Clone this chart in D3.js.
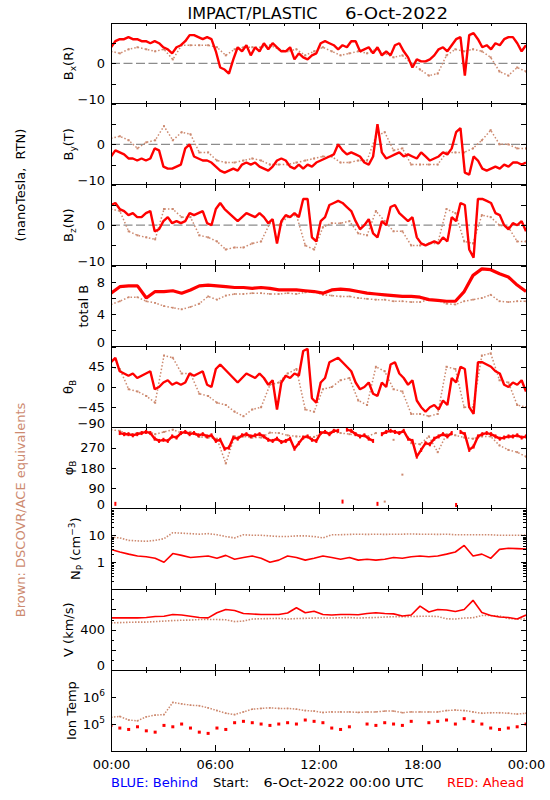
<!DOCTYPE html>
<html><head><meta charset="utf-8">
<script src="https://cdn.jsdelivr.net/npm/d3@7"></script>
<style>body{margin:0;background:#fff}svg{display:block}text{font-family:"DejaVu Sans",sans-serif}</style>
</head><body><svg id="c" width="550" height="800"></svg>
<script>
// ---------------- DATA ----------------
const timeTickLabels = ["00:00","06:00","12:00","18:00","00:00"];
const timeTickHours = [0,6,12,18,24];
const timeMinorHours = [2,4,8,10,14,16,20,22];

const bxRed = [4,5.5,6,6, 6.5,6,6,5.5, 5.5,5,5.5,5, 4,3.5,2.5,4, 4.5,5.5,7,7, 6.5,6,6.5,6, 3,-1,-1.5,-2.5, 1,4,3,4.5, 2,4,3,5, 3.5,5,4,3, 3,4,1,2.5, 1.5,1,2,2.5, 5,5.5,5,4.5, 3.5,4.5,4,5.5, 5.5,3,3.5,4, 2.5,4,2,3, 2,4.5,5,3, 1.5,-1,1,0.5, 0.5,1,2,3.5, 4,3,4.5,6, 6.5,-3,7,7.5, 6,4,4.5,3.5, 5,4.5,6,6.5, 6.5,5,3,4.5];
const bxBrown = [3,2.5,3.5,4,3.5,3,3.5,1, 4.5,4.5,4.5,4.5, 4,2, 3.5,4, 4,4,4.5,3.5, 3,3.5,2,3, 4,3,2,2.5, 3,2.5,3.5,2.5, 1.5,2,0,-1.5, -3,-2.5,2,3.5, 3,3.5,3,1.5, -2,-3,-1,-2];

const byRed = [-3,-1.5,-2,-2.5, -3.5,-3.5,-4,-3.5, -4,-3.5,-1,-1.5, -5.5,-6,-6,-5.5, -5,-1,0,-3, -3.5,-4,-4,-4.5, -5.5,-6.5,-7,-6.5, -6,-6.5,-5,-4.5, -5,-4.5,-5.5,-6, -6.5,-5.5,-4,-3.5, -4,-5.5,-6,-5, -6,-5,-5.5,-4.5, -4,-3.5,-3,-2.5, 0,-1.5,-2.5,-2, -2.5,-3,-4.5,-5, -3,5,-2,-3.5, -3,-2.5,-2,-3, -2.5,-3,-3.5,-2, -3,-4,-3.5,-3, -2,-2.5,-1,3, 4,-7,-7.5,-3, -4,-6,-6.5,-6, -5.5,-6,-5,-5.5, -4.5,-4.5,-5,-4.5];
const byBrown = [1.5,2,1,-1, 0.5,1,4.5,1, 3,2.5,-2,-2, -4,-4.5,-4.5,-4, -3.5,-4,-5,-5, -5,-4.5,-4,-3.5, -3,-3,-4.5,-4.5, -4,-4,2,3, -1.5,-1,-5,-5, -5,-5,-2,-2, -2,-1,1,3.5, 0,0,-1,-1];

const bzRed = [5,5.5,4,3.5, 2.5,3,2,2, 3,3.5,-1.5,-1, 1,2,0.5,1, 0.5,1,3,2.5, 3,3.5,0.5,0, 4,5.5,4,3, 2,1,2,3, 2.5,2,3,2, 0.5,1.5,-4.5,1, 2.5,2,3,2, 6.5,6.5,-3,-4, 1,2,5,5.5, 6,5.5,4.5,3.5, 1,-1,0,1.5, -2,-3,1,0, 4.5,5,3,2, 1,2,-3,-4.5, -5,-4.5,-4,-4.5, -3,-4,2,1, 5.5,5,-6,-8, 6.5,6.5,6,5.5, 3,2.5,0,-1, 0.5,0,1,-1.5];
const bzBrown = [4,3.5,-1.5,-2.5, -3,-3.5,4,4, 2,2,-2.5,-3, -4,-6,-5.5,-5.5, -4.5,-4,0.5,0, 2,2.5,-5,-6, -0.5,0.5,0.5,1, -2,-2.5,3.5,1, -1.5,-1.5,-5,-5, -4.5,-4.5,4,3, -4,-4.5,2.5,2, 0,-0.5,-4,-4];

const btRed = [6.6,7.4,7.5,7.5,6.0,6.8,6.8,6.9,6.6,7.0,7.5,7.6,7.5,7.4,7.3,7.3,7.2,7.3,7.2,7.0,7.0,7.0,6.9,6.8,6.6,7.0,7.1,7.0,6.8,6.6,6.5,6.4,6.3,6.2,6.2,6.1,5.8,5.7,5.6,5.6,6.8,8.8,9.6,9.5,9.0,8.6,7.6,6.8];
const btBrown = [5.2,5.6,6.1,6.1,5.6,5.4,5.0,4.8,4.6,4.9,5.3,6.2,5.8,6.3,6.5,6.5,6.6,6.6,6.5,6.5,6.6,6.5,6.7,6.8,6.4,6.3,6.2,6.2,6.0,5.9,5.8,5.8,5.6,5.6,5.5,5.5,5.8,5.7,5.3,5.2,5.6,5.8,6.0,6.4,5.6,5.5,5.6,5.6];

const thetaRed = [55,65,35,30, 25,30,20,25, 30,35,-5,0, 10,15,5,10, 5,10,30,25, 30,35,5,0, 40,50,40,30, 20,10,20,30, 25,20,30,20, 5,15,-50,10, 25,20,30,25, 80,85,-25,-35, 10,20,55,60, 65,55,45,35, 10,-5,0,10, -15,-20,10,0, 50,55,30,20, 5,15,-30,-45, -55,-45,-40,-50, -30,-40,20,10, 45,40,-45,-60, 55,55,50,45, 35,30,5,0, 10,5,15,-10];
const thetaBrown = [45,40,-5,-10, -20,-35,70,65, 30,30,-15,-20, -35,-40,-55,-65, -50,-45,5,10, 30,40,-50,-55, -5,0,15,20, -30,-40,45,35, -5,-10,-60,-60, -65,-60,45,40, -45,-45,70,75, 15,10,-40,-45];

const phiRed = [330,20,335,330, 330,325,330,335, 340,335,310,300, 305,300,320,315, 335,340,330,335, 325,330,320,325, 300,305,265,270, 315,310,325,330, 320,325,330,320, 305,300,310,295, 300,310,265,290, 315,320,305,300, 335,340,330,345, 345,30,350,345, 330,320,325,310, 300,20,330,340, 345,340,335,345, 310,300,230,260, 290,285,310,320, 330,320,335,15, 340,330,260,275, 320,330,335,330, 320,310,315,320, 320,325,315,320];
const phiBrown = [350,345,330,335, 345,330,340,350, 335,340,318,315, 310,200,320,320, 315,315,337,335, 325,320,320,318, 337,340,335,330, 325,320,335,30, 305,150,290,285, 320,250,330,325, 315,310,320,320, 280,260,250,230];

const npRed = [3.0,2.4,2.0,1.7,1.6,1.4,1.0,2.1,1.8,1.5, 1.6,1.7,1.4,1.8,1.3,1.5,1.7,1.4,1.0,1.2, 1.7,1.5,1.2,1.4,1.7,1.5,1.3,1.5,1.2,1.3, 1.2,1.3,1.5,1.4,1.6,1.7,1.6,1.7,2.0,2.4, 4.2,1.7,2.0,1.4,3.0,3.3,3.2,3.1];
const npBrown = [8.5,8.0,6.5,6.2,6.0,6.5,7.5,12.5,12.0,11.5, 11.0,11.5,10.5,9.0,8.0,10.5,10.0,10.0,9.5,9.0, 9.0,9.5,9.5,9.0,8.0,10.5,10.5,10.8,11.0,10.8, 11.0,10.8,11.0,11.0,11.2,11.0,11.0,10.8,11.0,10.5, 10.5,10.5,10.5,10.5,10.0,10.0,10.0,10.2];

const vRed = [517,517,517,517,520,530,533,550,545,533, 520,517,567,600,590,560,555,550,550,550, 565,617,567,583,550,545,550,550,548,560, 567,560,556,535,545,633,575,600,595,580, 600,690,570,540,525,520,505,545];
const vBrown = [467,470,473,475,475,480,485,490,493,495, 500,500,500,498,480,485,505,508,510,512, 505,510,512,515,515,515,518,520,515,518, 520,525,528,528,530,532,533,530,508,505, 515,518,540,540,535,510,505,505];

const tempRed = [89000,71000,63000,79000,56000,50000,89000,79000,100000,71000, 50000,45000,71000,63000,112000,126000,112000,100000,89000,100000, 112000,100000,141000,126000,112000,71000,63000,79000,null,100000, 89000,112000,100000,89000,126000,null,112000,126000,141000,100000, 158000,126000,100000,71000,63000,71000,79000,100000];
const tempBrown = [178000,191000,141000,132000,186000,214000,224000,631000,562000,501000, 479000,398000,316000,251000,224000,282000,355000,380000,398000,380000, 380000,355000,316000,302000,269000,282000,282000,282000,269000,282000, 282000,302000,302000,263000,282000,282000,282000,282000,316000,331000, 316000,282000,251000,263000,263000,251000,234000,251000];

// ---------------- LAYOUT ----------------
const L=111, R=526, T=23, B=751, NP=9, PH=(B-T)/NP;
const RED="#ff0000", BROWN="#cd8a70", BLUE="#0000ff";
const svg=d3.select("#c");
const x=d3.scaleLinear().domain([0,24]).range([L,R]);
const tAt=(i,n)=>i*24/(n-1);
const lin=(a,b,s)=>d3.range(a,b+s/2,s);
const logMinor=(a,b)=>{const o=[];for(let e=a;e<b;e++)for(let m=2;m<10;m++)o.push(m*Math.pow(10,e));return o;};

const bStyle={red:{line:2.4},brown:{line:1.5,dash:"1.5 2",dot:2}};
const panels=[
 {title:[["B",0],["x",1],["(R)",0]],tx:73,dom:[-10,10],major:lin(-10,10,5),minor:[],labels:[-10,0],zero:true,red:bxRed,brown:bxBrown,st:bStyle},
 {title:[["B",0],["y",1],["(T)",0]],tx:73,dom:[-10,10],major:lin(-10,10,5),minor:[],labels:[-10,0],zero:true,red:byRed,brown:byBrown,st:bStyle},
 {title:[["B",0],["z",1],["(N)",0]],tx:73,dom:[-10,10],major:lin(-10,10,5),minor:[],labels:[-10,0],zero:true,red:bzRed,brown:bzBrown,st:bStyle},
 {title:[["total B",0]],tx:88,dom:[0,10],major:lin(0,10,2),minor:[],labels:[0,4,8],red:btRed,brown:btBrown,
   st:{red:{line:3.2},brown:{line:1.5,dash:"1.5 2",dot:1.8}}},
 {title:[["θ",0],["B",1]],tx:73,dom:[-90,90],major:lin(-90,90,45),minor:[],labels:[-90,-45,0,45],red:thetaRed,brown:thetaBrown,st:bStyle},
 {title:[["φ",0],["B",1]],tx:73,dom:[0,360],major:lin(0,360,90),minor:[],labels:[0,90,180,270],red:phiRed,brown:phiBrown,
   st:{red:{line:2.4,bw:2,bh:4,wrap:120},brown:{line:1.5,dash:"1.5 2",dot:2,wrap:120}}},
 {title:[["N",0],["P",1],[" (cm",0],["−3",2],[")",0]],tx:80,log:true,dom:[0.1,100],major:[0.1,1,10,100],minor:logMinor(-1,2),labels:[1,10],red:npRed,brown:npBrown,
   st:{red:{line:1.6},brown:{line:1.6,dash:"1.5 1.5"}}},
 {title:[["V (km/s)",0]],tx:73,dom:[0,800],major:lin(0,800,200),minor:lin(100,700,200),labels:[0,400],red:vRed,brown:vBrown,
   st:{red:{line:1.6},brown:{line:1.6,dash:"1.5 1.5"}}},
 {title:[["Ion Temp",0]],tx:76,log:true,dom:[1e4,1e7],major:[1e4,1e5,1e6,1e7],minor:[],labels:[1e5,1e6],logLab:true,red:tempRed,brown:tempBrown,
   st:{red:{bw:3,bh:3},brown:{line:1.5,dash:"1.5 1.5",dot:1.6}}}
];

function drawSeries(g,data,y,color,st){
  const n=data.length;
  const pts=data.map((v,i)=>v==null?null:[x(tAt(i,n)),y(v)]);
  if(st.line){
    const segs=[];let cur=[];
    pts.forEach((p,i)=>{
      if(!p){if(cur.length)segs.push(cur);cur=[];return;}
      if(st.wrap&&cur.length&&Math.abs(data[i]-data[i-1])>st.wrap){segs.push(cur);cur=[];}
      cur.push(p);
    });
    if(cur.length)segs.push(cur);
    segs.forEach(s=>{ if(s.length<2) return;
      g.append("path").attr("d",d3.line()(s)).attr("fill","none").attr("stroke",color)
       .attr("stroke-width",st.line).attr("stroke-dasharray",st.dash||null).attr("stroke-linejoin","bevel");});
  }
  const bw=st.bw||st.dot, bh=st.bh||st.dot;
  if(bw){
    g.selectAll(null).data(pts.filter(Boolean)).enter().append("rect")
     .attr("x",d=>d[0]-bw/2).attr("y",d=>d[1]-bh/2)
     .attr("width",bw).attr("height",bh).attr("fill",color);
  }
}
function styleAxis(sel){sel.select(".domain").remove();sel.selectAll("line").attr("shape-rendering","crispEdges");}

panels.forEach((p,k)=>{
  const top=T+k*PH, bot=top+PH;
  const y=(p.log?d3.scaleLog():d3.scaleLinear()).domain(p.dom).range([bot,top]);
  const g=svg.append("g");
  const cid="clip"+k;
  svg.append("clipPath").attr("id",cid).append("rect").attr("x",L).attr("y",top).attr("width",R-L).attr("height",PH);
  const dg=g.append("g").attr("clip-path",`url(#${cid})`);
  if(p.zero) dg.append("line").attr("x1",L).attr("x2",R).attr("y1",y(0)).attr("y2",y(0))
     .attr("stroke","#8c8c8c").attr("stroke-width",1.3).attr("stroke-dasharray","9 3.5");
  drawSeries(dg,p.brown,y,BROWN,p.st.brown);
  drawSeries(dg,p.red,y,RED,p.st.red);
  g.append("rect").attr("x",L).attr("y",top).attr("width",R-L).attr("height",PH)
   .attr("fill","none").attr("stroke","#000").attr("stroke-width",1).attr("shape-rendering","crispEdges");
  g.append("g").attr("transform",`translate(${L},0)`).call(d3.axisLeft(y).tickValues(p.major).tickSize(-5).tickFormat("")).call(styleAxis);
  g.append("g").attr("transform",`translate(${R},0)`).call(d3.axisRight(y).tickValues(p.major).tickSize(-5).tickFormat("")).call(styleAxis);
  if(p.minor.length){
    g.append("g").attr("transform",`translate(${L},0)`).call(d3.axisLeft(y).tickValues(p.minor).tickSize(-3).tickFormat("")).call(styleAxis);
    g.append("g").attr("transform",`translate(${R},0)`).call(d3.axisRight(y).tickValues(p.minor).tickSize(-3).tickFormat("")).call(styleAxis);
  }
  g.append("g").attr("transform",`translate(0,${top})`).call(d3.axisBottom(x).tickValues(timeTickHours).tickSize(6).tickFormat("")).call(styleAxis);
  g.append("g").attr("transform",`translate(0,${top})`).call(d3.axisBottom(x).tickValues(timeMinorHours).tickSize(3).tickFormat("")).call(styleAxis);
  g.append("g").attr("transform",`translate(0,${bot})`).call(d3.axisTop(x).tickValues(timeTickHours).tickSize(6).tickFormat("")).call(styleAxis);
  g.append("g").attr("transform",`translate(0,${bot})`).call(d3.axisTop(x).tickValues(timeMinorHours).tickSize(3).tickFormat("")).call(styleAxis);
  const la=g.append("g").attr("transform",`translate(${L},0)`)
    .call(d3.axisLeft(y).tickValues(p.labels).tickSize(0).tickPadding(6).tickFormat(v=>p.logLab?"":String(v).replace("-","−")));
  la.select(".domain").remove();
  la.attr("font-size",13).attr("font-family","DejaVu Sans, sans-serif");
  la.selectAll("text").attr("fill","#000").attr("dy",d=>d===p.dom[0]?"-0.02em":"0.32em");
  if(p.logLab){
    la.selectAll("text").each(function(d){
      const t=d3.select(this);const e=Math.round(Math.log10(d));
      t.append("tspan").text("10");
      t.append("tspan").attr("font-size",9).attr("dy",-6).text(e);
    });
  }
  const cy=(top+bot)/2;
  const tt=g.append("text").attr("transform",`translate(${p.tx},${cy}) rotate(-90)`)
    .attr("text-anchor","middle").attr("font-size",13).attr("fill","#000");
  let cur=0;
  p.title.forEach(([s,m])=>{
    const off=m===1?3:(m===2?-5:0);
    tt.append("tspan").attr("dy",off-cur).attr("font-size",m?9:13).text(s);
    cur=off;
  });
});

const lastBot=T+NP*PH;
const xa=svg.append("g").attr("transform",`translate(0,${lastBot})`)
  .call(d3.axisBottom(x).tickValues(timeTickHours).tickSize(0).tickPadding(9).tickFormat((d,i)=>timeTickLabels[i]));
xa.select(".domain").remove();
xa.attr("font-size",13).attr("font-family","DejaVu Sans, sans-serif");
xa.selectAll("text").attr("fill","#000");

svg.append("text").attr("x",187.5).attr("y",18.5).attr("font-size",16).attr("textLength",130).attr("lengthAdjust","spacingAndGlyphs").text("IMPACT/PLASTIC");
svg.append("text").attr("x",345).attr("y",18.5).attr("font-size",16).attr("textLength",103).attr("lengthAdjust","spacingAndGlyphs").text("6-Oct-2022");
svg.append("text").attr("transform","translate(25,185) rotate(-90)").attr("text-anchor","middle").attr("font-size",13).style("white-space","pre").text("(nanoTesla,  RTN)");
svg.append("text").attr("transform","translate(25,510) rotate(-90)").attr("text-anchor","middle").attr("font-size",13).attr("fill",BROWN).text("Brown: DSCOVR/ACE equivalents");
svg.append("text").attr("x",111).attr("y",787).attr("font-size",13).attr("fill",BLUE).text("BLUE: Behind");
svg.append("text").attr("x",213).attr("y",787).attr("font-size",13).text("Start:");
svg.append("text").attr("x",263.5).attr("y",787).attr("font-size",13).attr("textLength",160).attr("lengthAdjust","spacingAndGlyphs").text("6-Oct-2022 00:00 UTC");
svg.append("text").attr("x",524).attr("y",787).attr("font-size",13).attr("text-anchor","end").attr("fill",RED).text("RED: Ahead");
</script></body></html>
